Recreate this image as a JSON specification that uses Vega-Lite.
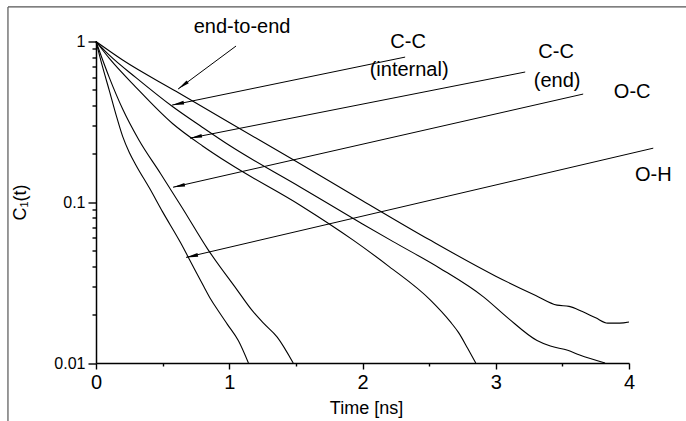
{
  "$schema": "https://vega.github.io/schema/vega-lite/v6.json",
  "width": 533,
  "height": 321.5,
  "autosize": "none",
  "padding": {"left": 96, "top": 41.5, "right": 57, "bottom": 58},
  "background": "white",
  "config": {
    "view": {"stroke": null},
    "font": "Liberation Sans",
    "axis": {
      "grid": false,
      "ticks": true,
      "domainColor": "black",
      "domainWidth": 1.5,
      "tickColor": "black",
      "tickWidth": 1.4,
      "labelColor": "black",
      "titleColor": "black",
      "labelFont": "Liberation Sans",
      "titleFont": "Liberation Sans",
      "titleFontWeight": "normal",
      "labelFlush": false,
      "labelOverlap": false,
      "labelBound": false
    }
  },
  "resolve": {"axis": {"x": "independent", "y": "independent"}},
  "datasets": {
    "curves": [
      {"s": "end-to-end", "t": 0, "c": 1},
      {"s": "end-to-end", "t": 0.2, "c": 0.767},
      {"s": "end-to-end", "t": 0.6, "c": 0.49},
      {"s": "end-to-end", "t": 1.0, "c": 0.313},
      {"s": "end-to-end", "t": 1.5, "c": 0.18},
      {"s": "end-to-end", "t": 2.0, "c": 0.1023},
      {"s": "end-to-end", "t": 2.5, "c": 0.0586},
      {"s": "end-to-end", "t": 3.0, "c": 0.0347},
      {"s": "end-to-end", "t": 3.3, "c": 0.0263},
      {"s": "end-to-end", "t": 3.46, "c": 0.0229},
      {"s": "end-to-end", "t": 3.55, "c": 0.0225},
      {"s": "end-to-end", "t": 3.65, "c": 0.0209},
      {"s": "end-to-end", "t": 3.75, "c": 0.0191},
      {"s": "end-to-end", "t": 3.84, "c": 0.0177},
      {"s": "end-to-end", "t": 3.93, "c": 0.0177},
      {"s": "end-to-end", "t": 4.0, "c": 0.018},

      {"s": "C-C internal", "t": 0, "c": 1},
      {"s": "C-C internal", "t": 0.1, "c": 0.822},
      {"s": "C-C internal", "t": 0.3, "c": 0.596},
      {"s": "C-C internal", "t": 0.574, "c": 0.394},
      {"s": "C-C internal", "t": 0.8, "c": 0.292},
      {"s": "C-C internal", "t": 1.0, "c": 0.226},
      {"s": "C-C internal", "t": 1.535, "c": 0.124},
      {"s": "C-C internal", "t": 2.0, "c": 0.0733},
      {"s": "C-C internal", "t": 2.23, "c": 0.0569},
      {"s": "C-C internal", "t": 2.58, "c": 0.0389},
      {"s": "C-C internal", "t": 2.91, "c": 0.0257},
      {"s": "C-C internal", "t": 3.09, "c": 0.0191},
      {"s": "C-C internal", "t": 3.31, "c": 0.0138},
      {"s": "C-C internal", "t": 3.41, "c": 0.01274},
      {"s": "C-C internal", "t": 3.54, "c": 0.012},
      {"s": "C-C internal", "t": 3.63, "c": 0.0112},
      {"s": "C-C internal", "t": 3.82, "c": 0.01},

      {"s": "C-C end", "t": 0, "c": 1},
      {"s": "C-C end", "t": 0.1, "c": 0.785},
      {"s": "C-C end", "t": 0.3, "c": 0.519},
      {"s": "C-C end", "t": 0.574, "c": 0.309},
      {"s": "C-C end", "t": 0.8, "c": 0.224},
      {"s": "C-C end", "t": 1.0, "c": 0.174},
      {"s": "C-C end", "t": 1.535, "c": 0.0955},
      {"s": "C-C end", "t": 1.93, "c": 0.0581},
      {"s": "C-C end", "t": 2.2, "c": 0.0398},
      {"s": "C-C end", "t": 2.51, "c": 0.0246},
      {"s": "C-C end", "t": 2.66, "c": 0.018},
      {"s": "C-C end", "t": 2.72, "c": 0.0155},
      {"s": "C-C end", "t": 2.79, "c": 0.0123},
      {"s": "C-C end", "t": 2.85, "c": 0.01},

      {"s": "O-C", "t": 0, "c": 1},
      {"s": "O-C", "t": 0.05, "c": 0.767},
      {"s": "O-C", "t": 0.1, "c": 0.596},
      {"s": "O-C", "t": 0.2, "c": 0.38},
      {"s": "O-C", "t": 0.323, "c": 0.243},
      {"s": "O-C", "t": 0.484, "c": 0.151},
      {"s": "O-C", "t": 0.649, "c": 0.0918},
      {"s": "O-C", "t": 0.837, "c": 0.0513},
      {"s": "O-C", "t": 1.06, "c": 0.0284},
      {"s": "O-C", "t": 1.17, "c": 0.0213},
      {"s": "O-C", "t": 1.257, "c": 0.0177},
      {"s": "O-C", "t": 1.36, "c": 0.0145},
      {"s": "O-C", "t": 1.48, "c": 0.01},

      {"s": "O-H", "t": 0, "c": 1},
      {"s": "O-H", "t": 0.05, "c": 0.692},
      {"s": "O-H", "t": 0.1, "c": 0.495},
      {"s": "O-H", "t": 0.15, "c": 0.351},
      {"s": "O-H", "t": 0.2, "c": 0.257},
      {"s": "O-H", "t": 0.25, "c": 0.204},
      {"s": "O-H", "t": 0.3, "c": 0.17},
      {"s": "O-H", "t": 0.4, "c": 0.123},
      {"s": "O-H", "t": 0.5, "c": 0.0871},
      {"s": "O-H", "t": 0.634, "c": 0.0562},
      {"s": "O-H", "t": 0.72, "c": 0.0412},
      {"s": "O-H", "t": 0.809, "c": 0.0299},
      {"s": "O-H", "t": 0.859, "c": 0.0251},
      {"s": "O-H", "t": 0.921, "c": 0.0209},
      {"s": "O-H", "t": 0.986, "c": 0.0174},
      {"s": "O-H", "t": 1.069, "c": 0.01374},
      {"s": "O-H", "t": 1.144, "c": 0.01}
    ],
    "arrows": [
      {"k": "end-to-end", "t": 0.616, "c": 0.506, "t2": 1.051, "c2": 0.937},
      {"k": "C-C internal", "t": 0.571, "c": 0.402, "t2": 2.32, "c2": 0.8},
      {"k": "C-C end", "t": 0.706, "c": 0.2505, "t2": 3.221, "c2": 0.646},
      {"k": "O-C", "t": 0.578, "c": 0.124, "t2": 3.656, "c2": 0.471},
      {"k": "O-H", "t": 0.676, "c": 0.0454, "t2": 4.182, "c2": 0.217}
    ],
    "labels": [
      {"label": "end-to-end", "t": 1.096, "c": 1.231},
      {"label": "C-C", "t": 2.342, "c": 0.993},
      {"label": "(internal)", "t": 2.35, "c": 0.664},
      {"label": "C-C", "t": 3.453, "c": 0.86},
      {"label": "(end)", "t": 3.461, "c": 0.567},
      {"label": "O-C", "t": 4.024, "c": 0.4845},
      {"label": "O-H", "t": 4.182, "c": 0.1473}
    ],
    "frame": [
      {"t": -0.6607, "c": 1.641, "t2": 4.6, "c2": 1.641},
      {"t": -0.6607, "c": 1.641, "t2": -0.6607, "c2": 0.003}
    ]
  },
  "encoding": {
    "x": {"field": "t", "type": "quantitative", "scale": {"domain": [0, 4], "nice": false, "zero": false}, "axis": null},
    "y": {"field": "c", "type": "quantitative", "scale": {"type": "log", "domain": [0.01, 1], "nice": false}, "axis": null}
  },
  "layer": [
    {
      "data": {"name": "frame"},
      "mark": {"type": "rule", "color": "#555", "strokeWidth": 1.2},
      "encoding": {
        "x": {
          "field": "t", "type": "quantitative",
          "scale": {"domain": [0, 4], "nice": false, "zero": false},
          "axis": {"orient": "bottom", "values": [0.5, 1.5, 2.5, 3.5], "tickSize": 3, "labels": false, "domain": false, "title": null}
        },
        "y": {
          "field": "c", "type": "quantitative",
          "scale": {"type": "log", "domain": [0.01, 1], "nice": false},
          "axis": {"orient": "left", "values": [0.02, 0.03, 0.04, 0.05, 0.06, 0.07, 0.08, 0.09, 0.2, 0.3, 0.4, 0.5, 0.6, 0.7, 0.8, 0.9], "tickSize": 4, "labels": false, "domain": false, "title": null}
        },
        "x2": {"field": "t2"},
        "y2": {"field": "c2"}
      }
    },
    {
      "data": {"name": "curves"},
      "mark": {"type": "line", "color": "black", "strokeWidth": 1.1, "interpolate": "monotone"},
      "encoding": {
        "x": {
          "field": "t", "type": "quantitative", "title": "Time [ns]",
          "scale": {"domain": [0, 4], "nice": false, "zero": false},
          "axis": {
            "orient": "bottom",
            "values": [0, 1, 2, 3, 4],
            "format": "d",
            "tickSize": 6,
            "labelFontSize": 20,
            "labelPadding": 3,
            "titleFontSize": 18,
            "titleX": 270,
            "titleY": 50,
            "titleAlign": "center",
            "titleBaseline": "alphabetic"
          }
        },
        "y": {
          "field": "c", "type": "quantitative", "title": "C₁(t)",
          "scale": {"type": "log", "domain": [0.01, 1], "nice": false},
          "axis": {
            "orient": "left",
            "values": [0.01, 0.1, 1],
            "format": "~g",
            "tickSize": 8,
            "labelFontSize": 16,
            "labelPadding": 3,
            "titleFontSize": 18,
            "titleX": -76,
            "titleY": 160.5,
            "titleAlign": "center",
            "titleBaseline": "middle"
          }
        },
        "detail": {"field": "s", "type": "nominal"}
      }
    },
    {
      "data": {"name": "arrows"},
      "mark": {"type": "rule", "color": "black", "strokeWidth": 1},
      "encoding": {
        "x2": {"field": "t2"},
        "y2": {"field": "c2"}
      }
    },
    {
      "data": {"name": "arrows"},
      "transform": [{"filter": "datum.k === 'end-to-end'"}],
      "mark": {"type": "point", "shape": "M0,0L0.3,2L-0.3,2Z", "size": 144, "filled": true, "color": "black", "opacity": 1, "angle": 233}
    },
    {
      "data": {"name": "arrows"},
      "transform": [{"filter": "datum.k !== 'end-to-end'"}],
      "mark": {"type": "point", "shape": "M0,0L0.3,2L-0.3,2Z", "size": 144, "filled": true, "color": "black", "opacity": 1, "angle": 258}
    },
    {
      "data": {"name": "labels"},
      "mark": {"type": "text", "font": "Liberation Sans", "fontSize": 20, "align": "center", "baseline": "middle", "color": "black"},
      "encoding": {"text": {"field": "label"}}
    }
  ]
}
